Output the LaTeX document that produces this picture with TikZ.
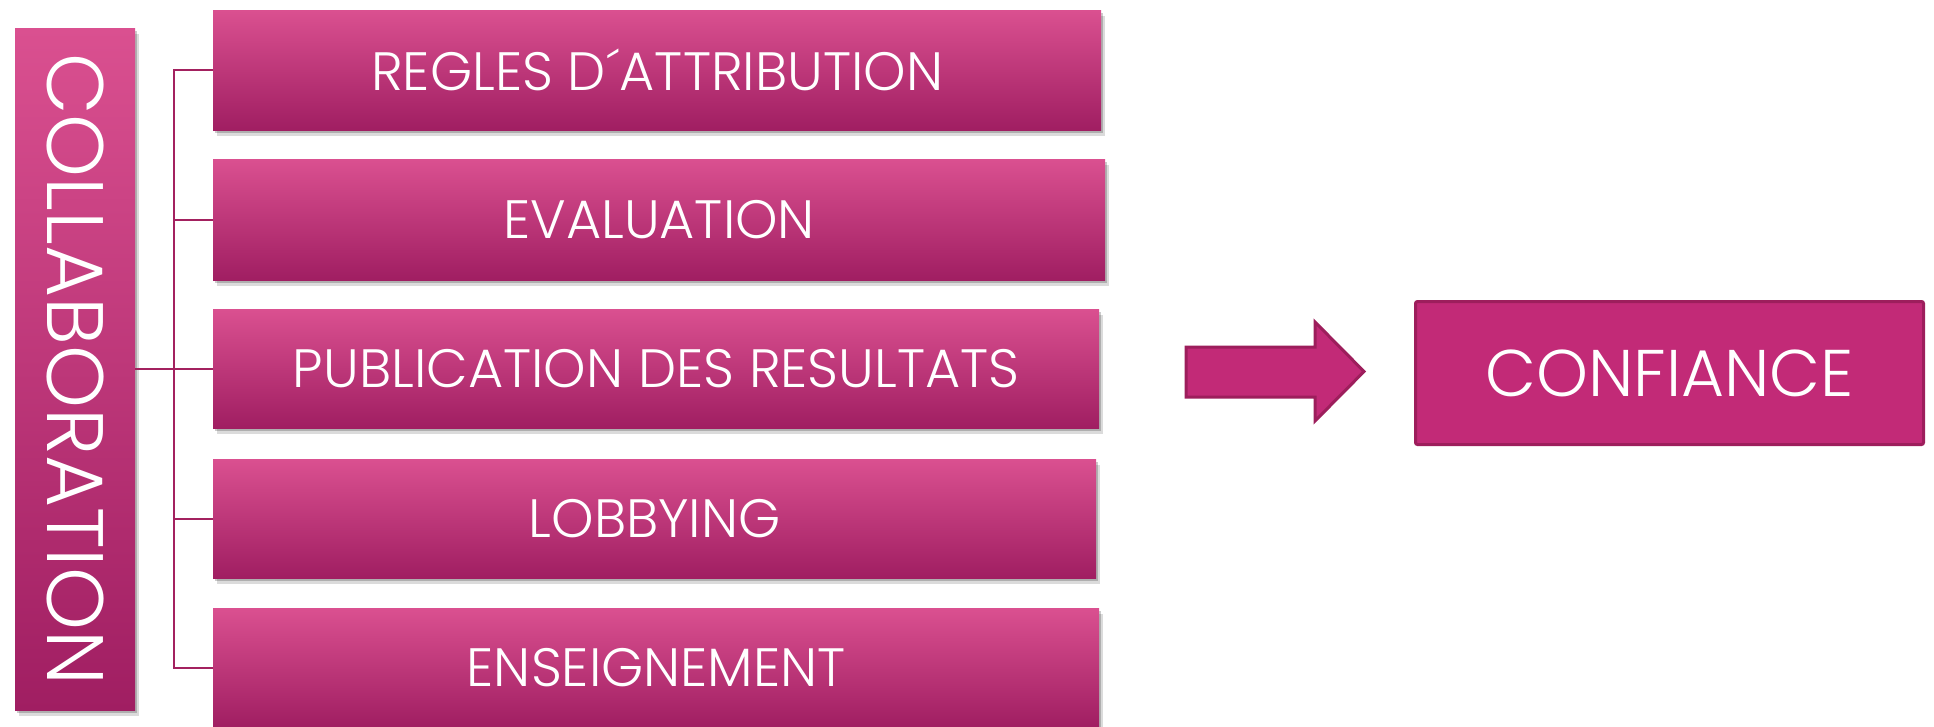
\documentclass[tikz,border=0pt]{standalone}
\usepackage{fontspec}
\setmainfont{Poppins}[UprightFont=* Light]
\usetikzlibrary{shadows}
\definecolor{gtop}{RGB}{218,80,144}
\definecolor{gbot}{RGB}{160,30,98}
\definecolor{cfill}{RGB}{194,42,119}
\definecolor{cline}{RGB}{157,30,92}
\definecolor{lnk}{RGB}{163,33,95}
\begin{document}
\begin{tikzpicture}[x=1pt,y=-1pt,
  softshadow/.style={drop shadow={shadow xshift=2pt,shadow yshift=-3pt,opacity=.2,fill=black},
                     drop shadow={shadow xshift=4pt,shadow yshift=-6pt,opacity=.14,fill=black}},
  gbox/.style={rectangle, top color=gtop, bottom color=gbot, draw=none, text=white,
    inner sep=0pt, anchor=north west, minimum height=120pt, softshadow,
    font=\fontsize{54}{60}\selectfont},
  link/.style={draw=lnk, line width=2pt},
]
\useasboundingbox (0,0) rectangle (1934,726);
\node[gbox, minimum width=120pt, minimum height=682pt, font=\fontsize{80}{90}\selectfont] (collab) at (15,28) {\rotatebox{-90}{COLLABORATION}};
\node[gbox, minimum width=888pt] (b1) at (213,10) {REGLES D´ATTRIBUTION};
\node[gbox, minimum width=892pt, minimum height=121pt] (b2) at (213,159) {EVALUATION};
\node[gbox, minimum width=886pt, minimum height=119pt] (b3) at (213,309) {PUBLICATION DES RESULTATS};
\node[gbox, minimum width=883pt, minimum height=119pt] (b4) at (213,459) {LOBBYING};
\node[gbox, minimum width=886pt, minimum height=119pt] (b5) at (213,608) {ENSEIGNEMENT};
\coordinate (bus) at (174,0);
\draw[link] (b1.west) -- (b1.west -| bus) -- (b5.west -| bus) -- (b5.west);
\draw[link] (b2.west) -- (b2.west -| bus);
\draw[link] (b3.west) -- (b3.west -| bus);
\draw[link] (b4.west) -- (b4.west -| bus);
\draw[link] (collab.east) -- (collab.east -| bus);
\draw[draw=cline, fill=cfill, line width=3pt, line join=miter]
  (1186,347) -- (1315,347) -- (1315,322) -- (1364,371.5) -- (1315,421) -- (1315,397) -- (1186,397) -- cycle;
\node[rectangle, anchor=north west, fill=cfill, draw=cline, line width=3pt, rounded corners=2pt,
  minimum width=508pt, minimum height=143pt, text=white, inner sep=0pt,
  font=\fontsize{66}{70}\selectfont] (conf) at (1414,300) {CONFIANCE};
\end{tikzpicture}
\end{document}
